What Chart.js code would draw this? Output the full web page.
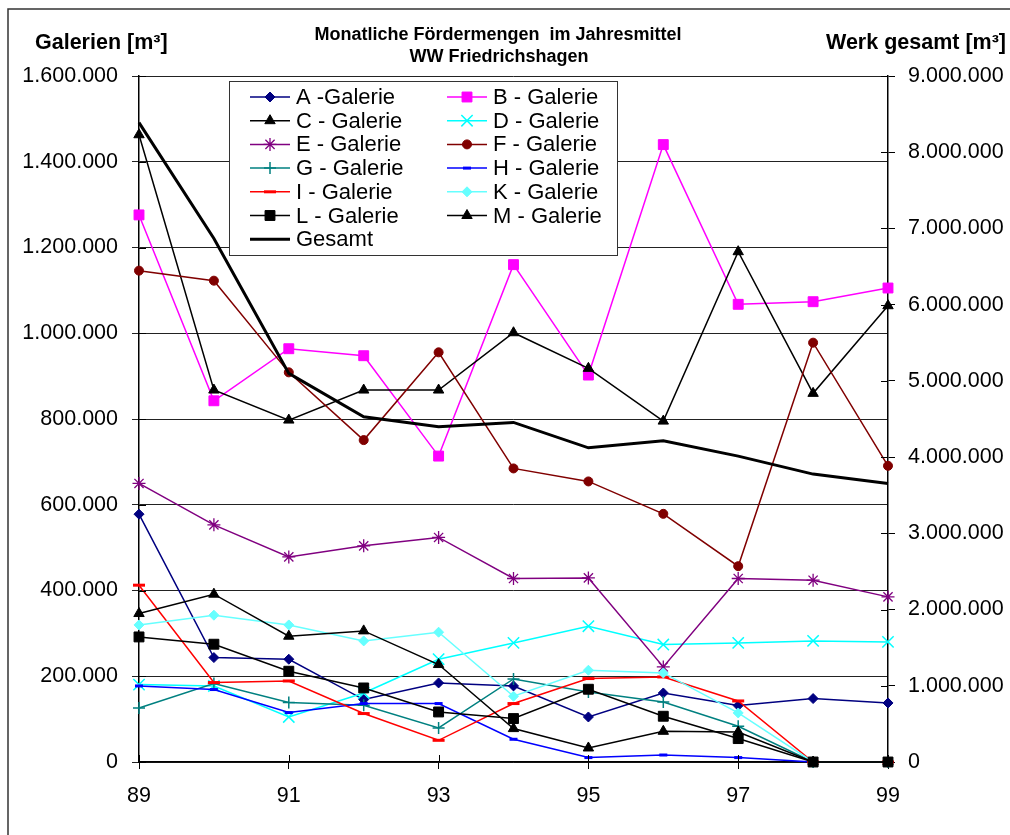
<!DOCTYPE html>
<html><head><meta charset="utf-8">
<script src="https://cdn.jsdelivr.net/npm/chart.js@4.4.1/dist/chart.umd.min.js"></script>
<style>html,body{margin:0;padding:0;background:#fff;}canvas{display:block;}</style>
</head><body>
<canvas id="c" width="1010" height="835"></canvas>
<script>
// ---- data ----
const years = [89, 90, 91, 92, 93, 94, 95, 96, 97, 98, 99];
const xTickLabels = ['89', '91', '93', '95', '97', '99'];
const leftAxisTitle = 'Galerien [m³]';
const rightAxisTitle = 'Werk gesamt [m³]';
const titleLines = ['Monatliche Fördermengen  im Jahresmittel', 'WW Friedrichshagen'];

const galerieA = [578000, 243600, 239700, 145600, 184400, 177400, 105000, 161000, 131600, 148000, 137700];
const galerieB = [1276000, 842500, 963900, 947600, 713500, 1160000, 902500, 1440000, 1067500, 1073600, 1105500];
const galerieC = [1463000, 867500, 797500, 867500, 867500, 1001200, 918100, 795100, 1190200, 859800, 1064200];
const galerieD = [180600, 177400, 105000, 161000, 239700, 277700, 316700, 274000, 277700, 282400, 280100];
const galerieE = [649700, 553100, 478400, 504100, 523700, 428000, 429400, 221700, 428000, 424000, 385100];
const galerieF = [1146000, 1122600, 908800, 750800, 955500, 684700, 654400, 578800, 456700, 978000, 690800];
const galerieG = [126000, 183000, 138600, 132300, 79300, 193700, 163400, 140000, 83300, 0, 0];
const galerieH = [177400, 169000, 115300, 136300, 136300, 53000, 10300, 16300, 10300, 0, 0];
const galerieI = [412400, 185300, 189000, 113000, 50600, 136300, 194600, 198400, 142400, 0, 0];
const galerieK = [319700, 342400, 319700, 282400, 302700, 153300, 214000, 207700, 114400, 0, 0];
const galerieL = [291700, 274700, 211700, 172700, 116700, 101300, 169700, 106700, 54600, 0, 0];
const galerieM = [346300, 391400, 293400, 305800, 227300, 77900, 32700, 71600, 70000, 0, 0];
const gesamt = [8389000, 6868000, 5098000, 4529000, 4397000, 4455000, 4122000, 4214000, 4013000, 3777000, 3655000];

// ---- styling ----
const FONT = "'Liberation Sans', Arial, sans-serif";
Chart.defaults.font.family = FONT;
Chart.defaults.color = '#000';

function fmt(v) { return String(Math.round(v)).replace(/\B(?=(\d{3})+(?!\d))/g, '.'); }

function series(label, data, color, style, radius, pbw, extra) {
  return Object.assign({
    label: label,
    data: years.map((x, i) => ({ x: x, y: data[i] })),
    borderColor: color,
    backgroundColor: color,
    pointBackgroundColor: color,
    pointBorderColor: color,
    pointStyle: style,
    pointRadius: radius,
    pointHoverRadius: radius,
    pointBorderWidth: pbw,
    borderWidth: 1.5,
    tension: 0,
    clip: false,
    yAxisID: 'y'
  }, extra || {});
}

const datasets = [
  series('A -Galerie', galerieA, '#000080', 'rectRot', 5, 1),
  series('B - Galerie', galerieB, '#FF00FF', 'rect', 7, 1),
  series('C - Galerie', galerieC, '#000000', 'triangle', 6, 1),
  series('D - Galerie', galerieD, '#00FFFF', 'crossRot', 8, 1.5),
  series('E - Galerie', galerieE, '#800080', 'star', 6.5, 1.3),
  series('F - Galerie', galerieF, '#800000', 'circle', 4.5, 1),
  series('G - Galerie', galerieG, '#008080', 'cross', 6, 1.5),
  series('H - Galerie', galerieH, '#0000FF', 'line', 4, 3),
  series('I - Galerie', galerieI, '#FF0000', 'line', 6, 3),
  series('K - Galerie', galerieK, '#66FFFF', 'rectRot', 5, 1),
  series('L - Galerie', galerieL, '#000000', 'rect', 7, 1),
  series('M - Galerie', galerieM, '#000000', 'triangle', 6, 1),
  series('Gesamt', gesamt, '#000000', 'circle', 0, 0, { borderWidth: 3, yAxisID: 'y1' })
];
datasets.forEach((d, i) => { d.order = datasets.length - i; });

// ---- custom drawing plugin: frame, titles, inner ticks, legend ----
function drawMarker(ctx, ds, x, y) {
  if (!ds.pointRadius) return;
  ctx.save();
  ctx.fillStyle = ds.pointBackgroundColor;
  ctx.strokeStyle = ds.pointBorderColor;
  ctx.lineWidth = ds.pointBorderWidth;
  Chart.helpers.drawPoint(ctx, { pointStyle: ds.pointStyle, rotation: 0, radius: ds.pointRadius, borderWidth: ds.pointBorderWidth }, x, y);
  ctx.restore();
}

const decor = {
  id: 'decor',
  beforeDraw(chart) {
    const ctx = chart.ctx;
    ctx.save();
    ctx.fillStyle = '#fff';
    ctx.fillRect(0, 0, chart.width, chart.height);
    ctx.strokeStyle = '#333';
    ctx.lineWidth = 1.5;
    ctx.strokeRect(8, 9, 1300, 1300);
    ctx.restore();
  },
  afterDraw(chart) {
    const ctx = chart.ctx;
    const a = chart.chartArea;
    const sy = chart.scales.y, sy1 = chart.scales.y1, sx = chart.scales.x;
    ctx.save();
    // inner tick marks
    ctx.strokeStyle = '#000';
    ctx.lineWidth = 1;
    ctx.beginPath();
    sy.ticks.forEach(t => { const p = Math.round(sy.getPixelForValue(t.value)) + 0.5; ctx.moveTo(a.left, p); ctx.lineTo(a.left + 7, p); });
    sy1.ticks.forEach(t => { const p = Math.round(sy1.getPixelForValue(t.value)) + 0.5; ctx.moveTo(a.right, p); ctx.lineTo(a.right - 7, p); });
    sx.ticks.forEach(t => { const p = Math.round(sx.getPixelForValue(t.value)) + 0.5; ctx.moveTo(p, a.bottom); ctx.lineTo(p, a.bottom - 7); });
    ctx.stroke();

    // titles
    ctx.fillStyle = '#000';
    ctx.textBaseline = 'middle';
    ctx.textAlign = 'center';
    ctx.font = 'bold 18px ' + FONT;
    ctx.fillText(titleLines[0], 498, 35);
    ctx.fillText(titleLines[1], 499, 57);
    ctx.font = 'bold 21.5px ' + FONT;
    ctx.textAlign = 'left';
    ctx.fillText(leftAxisTitle, 35, 43);
    ctx.textAlign = 'right';
    ctx.fillText(rightAxisTitle, 1006, 43);

    // legend box
    const bx = 229, by = 81, bw = 388, bh = 174;
    ctx.fillStyle = '#fff';
    ctx.fillRect(bx, by, bw, bh);
    ctx.strokeStyle = '#333';
    ctx.lineWidth = 1;
    ctx.strokeRect(bx + 0.5, by + 0.5, bw, bh);
    const cols = [250, 447];
    ctx.font = '22px ' + FONT;
    ctx.textAlign = 'left';
    ctx.textBaseline = 'middle';
    datasets.forEach((ds, i) => {
      const col = i % 2, row = Math.floor(i / 2);
      const x0 = cols[col], y = 97 + row * 23.7;
      ctx.strokeStyle = ds.borderColor;
      ctx.lineWidth = ds.borderWidth;
      ctx.beginPath();
      ctx.moveTo(x0, y); ctx.lineTo(x0 + 40, y);
      ctx.stroke();
      drawMarker(ctx, ds, x0 + 20, y);
      ctx.fillStyle = '#000';
      ctx.fillText(ds.label, x0 + 46, y + 1);
    });
    ctx.restore();
  }
};

new Chart(document.getElementById('c'), {
  type: 'line',
  data: { datasets: datasets },
  options: {
    responsive: false,
    devicePixelRatio: 1,
    animation: false,
    events: [],
    layout: { padding: { top: 76, left: 0, right: 0, bottom: 0 } },
    plugins: { legend: { display: false }, title: { display: false }, tooltip: { enabled: false } },
    scales: {
      x: {
        type: 'linear',
        min: 89, max: 99,
        ticks: {
          stepSize: 2,
          font: { size: 21.5 },
          padding: 14,
          callback: (v) => xTickLabels.includes(String(v)) ? String(v) : ''
        },
        grid: { drawOnChartArea: false, drawTicks: true, tickLength: 7, color: '#000', lineWidth: 1 },
        border: { display: true, color: '#000', width: 1.5 },
        afterFit(s) { s.height = 73; }
      },
      y: {
        position: 'left',
        min: 0, max: 1600000,
        ticks: { stepSize: 200000, font: { size: 21.5 }, padding: 14, callback: (v) => fmt(v) },
        grid: { color: '#222', lineWidth: 1, tickLength: 7, drawTicks: true },
        border: { display: true, color: '#000', width: 1.5 },
        afterFit(s) { s.width = 139; }
      },
      y1: {
        position: 'right',
        min: 0, max: 9000000,
        ticks: { stepSize: 1000000, font: { size: 21.5 }, padding: 13, callback: (v) => fmt(v) },
        grid: { drawOnChartArea: false, drawTicks: true, tickLength: 7, color: '#000', lineWidth: 1 },
        border: { display: true, color: '#000', width: 1.5 },
        afterFit(s) { s.width = 122; }
      }
    }
  },
  plugins: [decor]
});
</script>
</body></html>
